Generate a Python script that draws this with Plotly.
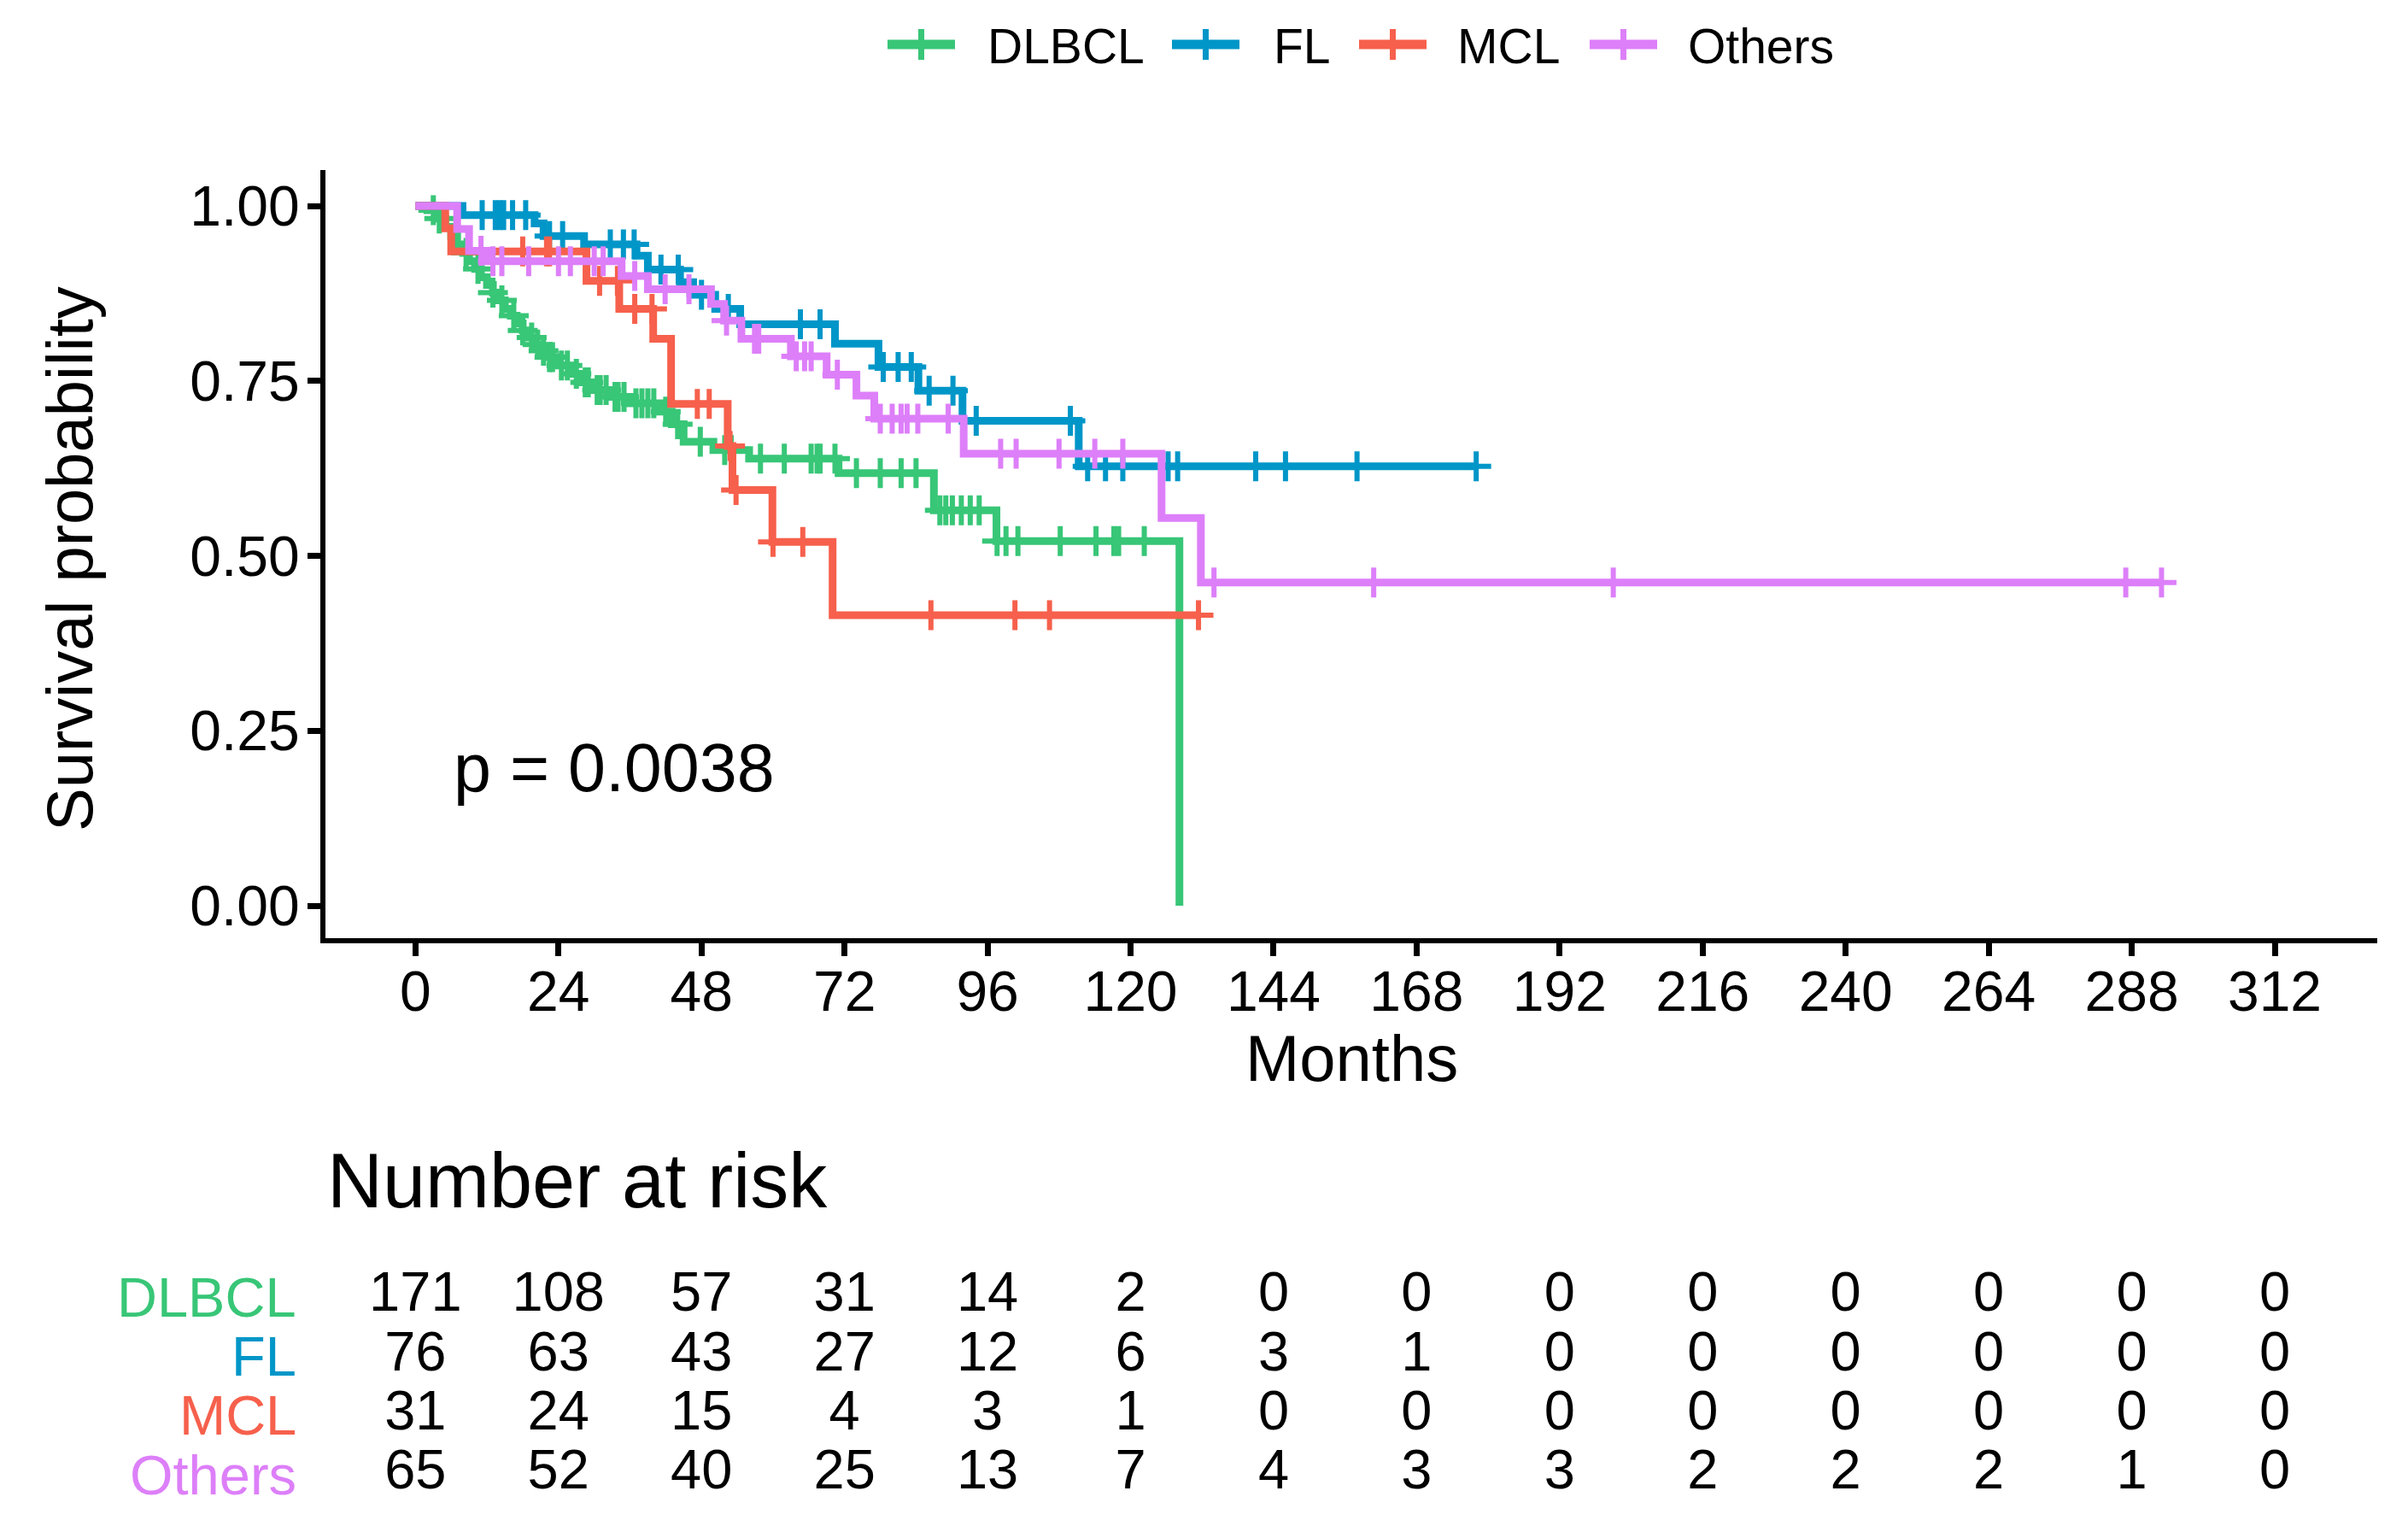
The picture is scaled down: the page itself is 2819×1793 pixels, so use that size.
import plotly.graph_objects as go
import numpy as np

FONT = "Liberation Sans, Arial, sans-serif"

groups = ["DLBCL", "FL", "MCL", "Others"]
colors = ["#38C677", "#0096C8", "#F6604C", "#DD7FF9"]

# ---- Kaplan-Meier step data (months, survival) ----
dlbcl_times = [0, 2, 3.5, 5, 6, 7, 8, 9, 10, 11, 12, 13, 14, 15, 16, 17, 18, 19, 20, 21, 22,
               24, 26, 28, 30, 33, 36, 41, 43, 45, 50, 56, 71, 87, 97.5, 128.2]
dlbcl_surv = [1.0, 0.994, 0.982, 0.97, 0.957, 0.945, 0.933, 0.921, 0.91, 0.898, 0.887, 0.876,
              0.865, 0.853, 0.843, 0.832, 0.822, 0.812, 0.802, 0.793, 0.784, 0.772, 0.76, 0.748,
              0.737, 0.727, 0.718, 0.706, 0.688, 0.663, 0.651, 0.639, 0.618, 0.565, 0.521, 0.0]
dlbcl_end = 128.2
dlbcl_censor = [3, 4, 8.5, 10.5, 13, 14.5, 16.5, 18, 19.5, 20.5, 21.5, 22.5, 23, 24.5, 25.5, 27,
                28.5, 29, 30.5, 31, 32, 33.5, 34, 35, 37, 38, 39, 40, 42, 44, 47.8, 51.9, 53,
                57.9, 61.9, 66.4, 67.4, 67.9, 70.4, 74, 78, 81.5, 84, 88, 89, 90.1, 91.6, 93.1,
                94.6, 97.6, 99.1, 101.1, 108.2, 114.2, 117.2, 118, 122.3]

fl_times = [0, 7.9, 20, 21.5, 28.3, 37.1, 39, 44.4, 46.6, 50.3, 54.5, 70.4, 77.7, 84.4, 91.8, 111.3]
fl_surv = [1.0, 0.987, 0.975, 0.957, 0.945, 0.929, 0.909, 0.891, 0.873, 0.853, 0.831, 0.803,
           0.770, 0.736, 0.693, 0.628]
fl_end = 178
fl_censor = [11.2, 13.4, 14.1, 14.8, 16.3, 18.5, 22.5, 24.7, 32.7, 34.9, 36.7, 41.2, 44.1, 48,
             52.5, 64.6, 67.9, 78.5, 81, 83.2, 86.2, 90.2, 94.1, 109.9, 112.8, 115.8, 118.7,
             126.3, 127.9, 141, 146, 158, 178]

mcl_times = [0, 5, 6, 28.7, 34.2, 39.9, 42.9, 52.4, 53.2, 59.9, 70]
mcl_surv = [1.0, 0.968, 0.935, 0.893, 0.853, 0.81, 0.717, 0.657, 0.594, 0.52, 0.415]
mcl_end = 131.4
mcl_censor = [18, 22, 22.5, 30.9, 33.9, 36.8, 39.7, 47.3, 49.3, 52.8, 53.8, 60, 65, 86.5,
              100.6, 106.4, 131.4]

oth_times = [0, 7, 9, 12, 34.6, 39, 49.6, 51.8, 54.7, 63, 69, 74, 77, 92, 125.2, 131.8]
oth_surv = [1.0, 0.967, 0.936, 0.921, 0.90, 0.881, 0.86, 0.836, 0.81, 0.785, 0.759, 0.729,
            0.696, 0.646, 0.554, 0.462]
oth_end = 293
oth_censor = [11, 13, 14.5, 19, 24, 26, 30, 31.5, 36.8, 41.9, 45.9, 52.2, 56.9, 57.6, 63.9,
              65.3, 66.4, 70.8, 78, 80, 81.5, 82.5, 84.3, 89.4, 98.2, 100.8, 108, 114, 118.7,
              134, 160.8, 201, 287, 293]

p_label = "p = 0.0038"

# ---- Number at risk table ----
risk_times = [0, 24, 48, 72, 96, 120, 144, 168, 192, 216, 240, 264, 288, 312]
risk_dlbcl = [171, 108, 57, 31, 14, 2, 0, 0, 0, 0, 0, 0, 0, 0]
risk_fl = [76, 63, 43, 27, 12, 6, 3, 1, 0, 0, 0, 0, 0, 0]
risk_mcl = [31, 24, 15, 4, 3, 1, 0, 0, 0, 0, 0, 0, 0, 0]
risk_oth = [65, 52, 40, 25, 13, 7, 4, 3, 3, 2, 2, 2, 1, 0]

y_ticks = [0, 0.25, 0.5, 0.75, 1.0]
x_ticks = list(range(0, 313, 24))

curves = [
    (dlbcl_times, dlbcl_surv, dlbcl_end, dlbcl_censor),
    (fl_times, fl_surv, fl_end, fl_censor),
    (mcl_times, mcl_surv, mcl_end, mcl_censor),
    (oth_times, oth_surv, oth_end, oth_censor),
]
risks = [risk_dlbcl, risk_fl, risk_mcl, risk_oth]

W, H = 2819, 1793
fig = go.Figure()

for name, col, (t, s, end, cens) in zip(groups, colors, curves):
    xs = list(t) + [end]
    ys = list(s) + [s[-1]]
    fig.add_trace(go.Scatter(x=xs, y=ys, mode="lines", line=dict(color=col, width=9, shape="hv"),
                             showlegend=False, hoverinfo="skip"))
    idx = np.searchsorted(np.array(t), np.array(cens), side="right") - 1
    cy = [s[i] for i in idx]
    fig.add_trace(go.Scatter(x=cens, y=cy, mode="markers",
                             marker=dict(symbol="cross-thin", size=25, color=col,
                                         line=dict(color=col, width=6)),
                             showlegend=False, hoverinfo="skip"))

# risk table
n = len(groups)
for r, (name, vals) in enumerate(zip(groups, risks)):
    fig.add_trace(go.Scatter(x=risk_times, y=[n - 1 - r] * len(risk_times), mode="text",
                             text=[str(v) for v in vals], textposition="middle center",
                             textfont=dict(size=65, color="black", family=FONT),
                             xaxis="x2", yaxis="y2", showlegend=False, hoverinfo="skip"))

xdom = [381 / W, 2783 / W]
axis_common = dict(showgrid=False, zeroline=False, showline=True, linecolor="black", linewidth=6,
                   ticks="outside", ticklen=15, tickwidth=7, tickcolor="black",
                   tickfont=dict(size=66, color="black", family=FONT))

annotations = [
    dict(text=p_label, x=6.1, y=0.197, xref="x", yref="y", xanchor="left", yanchor="middle",
         showarrow=False, font=dict(size=79, color="black", family=FONT)),
    dict(text="Survival probability", x=81 / W, y=1 - 654 / H, xref="paper", yref="paper",
         textangle=-90, showarrow=False, xanchor="center", yanchor="middle",
         font=dict(size=76, color="black", family=FONT)),
    dict(text="Months", x=1582 / W, y=1 - 1238 / H, xref="paper", yref="paper",
         showarrow=False, xanchor="center", yanchor="middle",
         font=dict(size=76, color="black", family=FONT)),
    dict(text="Number at risk", x=381 / W, y=1 - 1382 / H, xref="paper", yref="paper",
         showarrow=False, xanchor="left", yanchor="middle",
         font=dict(size=90, color="black", family=FONT)),
]
for r, (name, col) in enumerate(zip(groups, colors)):
    annotations.append(dict(text=name, x=349 / W, y=n - 1 - r, xref="paper", yref="y2",
                            xanchor="right", yanchor="middle", showarrow=False,
                            font=dict(size=65, color=col, family=FONT)))

# legend (drawn as keys + labels at the top)
leg_key_x = [1039, 1372, 1591, 1861]
leg_text_x = [1154, 1489, 1704, 1974]
leg_y = 52
shapes = []
for name, col, kx, tx in zip(groups, colors, leg_key_x, leg_text_x):
    shapes.append(dict(type="line", xref="paper", yref="paper", x0=kx / W, x1=(kx + 79) / W,
                       y0=1 - leg_y / H, y1=1 - leg_y / H, line=dict(color=col, width=11)))
    shapes.append(dict(type="line", xref="paper", yref="paper", x0=(kx + 39.5) / W,
                       x1=(kx + 39.5) / W, y0=1 - (leg_y - 18) / H, y1=1 - (leg_y + 18) / H,
                       line=dict(color=col, width=7)))
    annotations.append(dict(text=name, x=tx / W, y=1 - (leg_y + 2) / H, xref="paper",
                            yref="paper", xanchor="left", yanchor="middle", showarrow=False,
                            font=dict(size=57, color="black", family=FONT)))

fig.update_layout(
    width=W, height=H, autosize=False,
    margin=dict(l=0, r=0, t=0, b=0),
    paper_bgcolor="white", plot_bgcolor="white",
    font=dict(family=FONT, color="black"),
    xaxis=dict(domain=xdom, range=[-15.1, 329.2], tickvals=x_ticks,
               ticktext=[str(v) for v in x_ticks], anchor="y", ticklabelstandoff=-15,
               **axis_common),
    yaxis=dict(domain=[1 - 1098 / H, 1 - 199 / H], range=[-0.0464, 1.0513], tickvals=y_ticks,
               ticktext=["%.2f" % v for v in y_ticks], anchor="x", ticklabelstandoff=-4,
               **axis_common),
    xaxis2=dict(domain=xdom, range=[-15.1, 329.2], visible=False, anchor="y2"),
    yaxis2=dict(domain=[1 - 1760 / H, 1 - 1485 / H], range=[-0.49, 3.476], visible=False,
                anchor="x2"),
    annotations=annotations,
    shapes=shapes,
    showlegend=False,
)

fig.write_html("out.html", config={"displayModeBar": False},
               post_script="document.body.style.margin='0';document.body.style.padding='0';"
                           "document.body.style.overflow='hidden';")
